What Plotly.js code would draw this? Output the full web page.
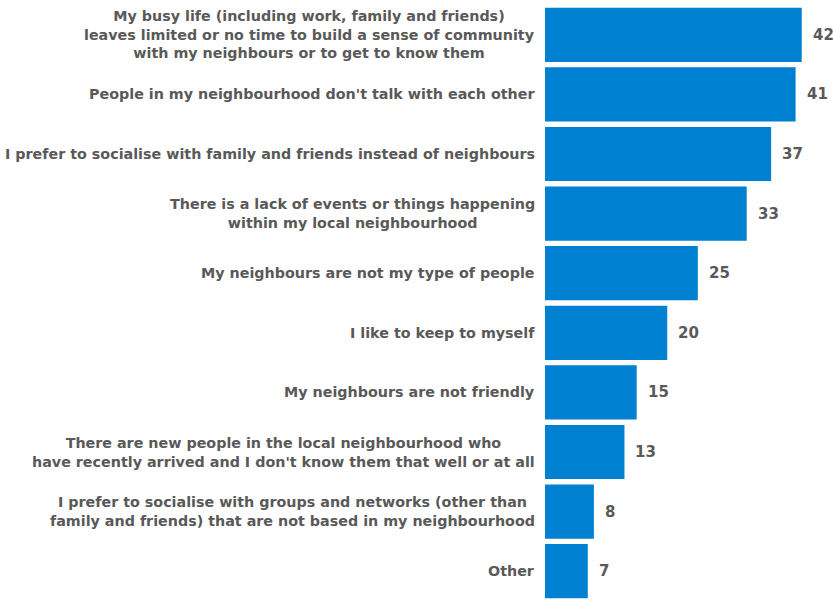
<!DOCTYPE html>
<html>
<head>
<meta charset="utf-8">
<script src="https://cdn.plot.ly/plotly-3.0.1.min.js"></script>
<style>html,body{margin:0;padding:0;background:#fff;}#chart{width:833px;height:601px;}</style>
</head>
<body>
<div id="chart"></div>
<script>
const categories = [
  "My busy life (including work, family and friends)<br>leaves limited or no time to build a sense of community<br>with my neighbours or to get to know them",
  "People in my neighbourhood don't talk with each other",
  "I prefer to socialise with family and friends instead of neighbours",
  "There is a lack of events or things happening<br>within my local neighbourhood",
  "My neighbours are not my type of people",
  "I like to keep to myself",
  "My neighbours are not friendly",
  "There are new people in the local neighbourhood who<br>have recently arrived and I don't know them that well or at all",
  "I prefer to socialise with groups and networks (other than<br>family and friends) that are not based in my neighbourhood",
  "Other"
];
const values = [42, 41, 37, 33, 25, 20, 15, 13, 8, 7];

const grey = "#595959";
const fontFam = "DejaVu Sans, Liberation Sans, Arial, sans-serif";
const ids = categories.map((c, i) => "c" + i);

const trace = {
  type: "bar",
  orientation: "h",
  x: values,
  y: ids,
  marker: {color: "#0080D0"},
  hoverinfo: "none"
};

const annotations = [];
categories.forEach((c, i) => {
  annotations.push({
    x: 0, y: ids[i], xref: "x", yref: "y",
    text: c, showarrow: false, xanchor: "right", yanchor: "middle",
    align: "center", xshift: -8,
    font: {family: fontFam, size: 14.3, color: grey, weight: "bold"}
  });
  annotations.push({
    x: values[i], y: ids[i], xref: "x", yref: "y",
    text: String(values[i]), showarrow: false, xanchor: "left", yanchor: "middle",
    xshift: 9,
    font: {family: fontFam, size: 15, color: grey, weight: "bold"}
  });
});

const layout = {
  width: 833, height: 601,
  margin: {l: 545, r: 0, t: 5, b: 0},
  paper_bgcolor: "#fff", plot_bgcolor: "#fff",
  bargap: 0.09,
  showlegend: false,
  xaxis: {range: [0, 47.12], visible: false, fixedrange: true},
  yaxis: {autorange: "reversed", showticklabels: false, showgrid: false, zeroline: false, showline: false, ticks: ""},
  annotations: annotations
};

Plotly.newPlot("chart", [trace], layout, {displayModeBar: false, staticPlot: true});
</script>
</body>
</html>
